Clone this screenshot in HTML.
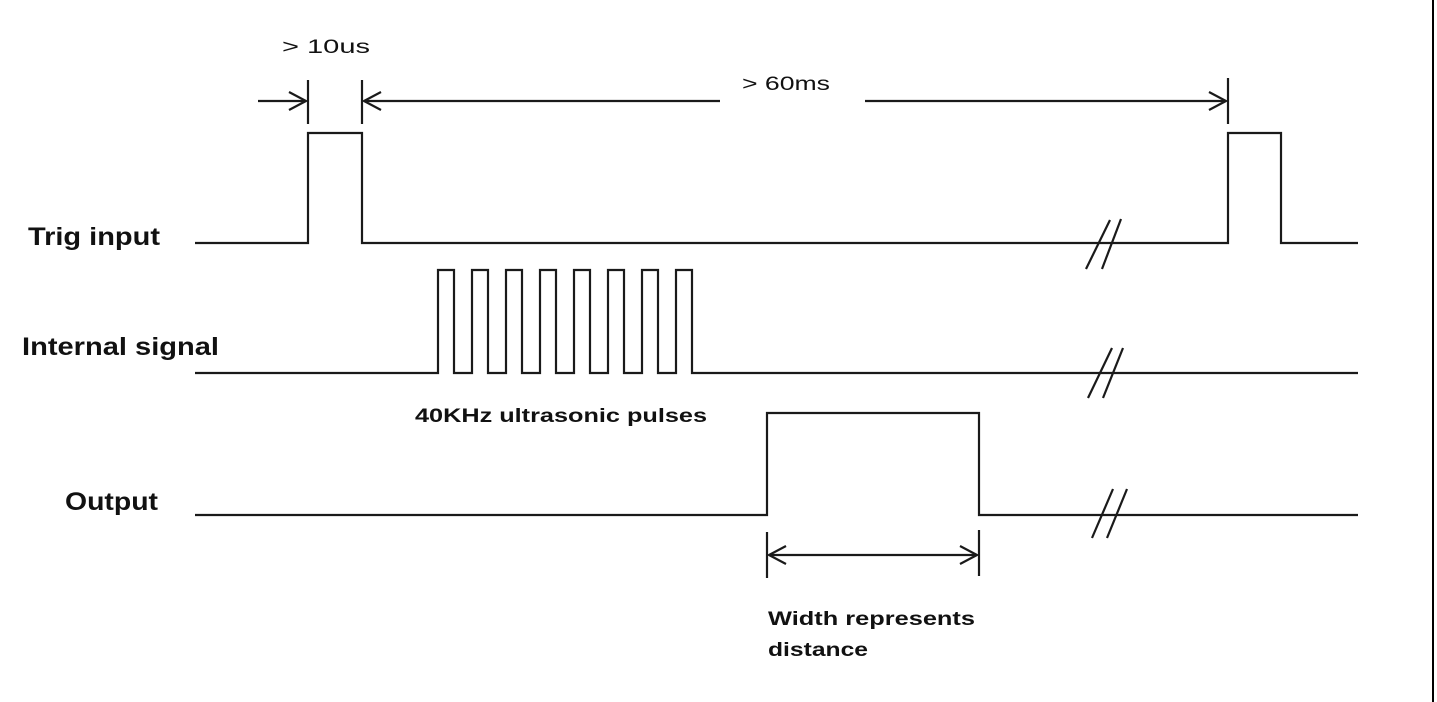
<!DOCTYPE html>
<html><head><meta charset="utf-8"><style>
html,body{margin:0;padding:0;background:#fff;}
svg{display:block;}
text{font-family:"Liberation Sans",Arial,sans-serif;fill:#111;}
</style></head><body>
<svg width="1437" height="702" viewBox="0 0 1437 702" xmlns="http://www.w3.org/2000/svg">
<rect width="1437" height="702" fill="#fff"/>
<line x1="1433" y1="0" x2="1433" y2="702" stroke="#000" stroke-width="2"/>
<g fill="none" stroke="#1a1a1a" stroke-width="2.2">
<!-- Trig -->
<polyline points="195,243 308,243 308,133 362,133 362,243 1228,243 1228,133 1281,133 1281,243 1358,243"/>
<line x1="1086" y1="269" x2="1110" y2="220"/><line x1="1102" y1="269" x2="1121" y2="219"/>
<!-- Internal -->
<polyline points="195,373 438,373 438,270 454,270 454,373 472,373 472,270 488,270 488,373 506,373 506,270 522,270 522,373 540,373 540,270 556,270 556,373 574,373 574,270 590,270 590,373 608,373 608,270 624,270 624,373 642,373 642,270 658,270 658,373 676,373 676,270 692,270 692,373 1358,373"/>
<line x1="1088" y1="398" x2="1112" y2="348"/><line x1="1103" y1="398" x2="1123" y2="348"/>
<!-- Output -->
<polyline points="195,515 767,515 767,413 979,413 979,515 1358,515"/>
<line x1="1092" y1="538" x2="1113" y2="489"/><line x1="1107" y1="538" x2="1127" y2="489"/>
<!-- dimension: 10us -->
<line x1="258" y1="101" x2="306" y2="101"/>
<polyline points="289,92 306,101 289,110"/>
<line x1="308" y1="80" x2="308" y2="124"/>
<line x1="362" y1="80" x2="362" y2="124"/>
<line x1="364" y1="101" x2="720" y2="101"/>
<polyline points="381,92 364,101 381,110"/>
<line x1="865" y1="101" x2="1226" y2="101"/>
<polyline points="1209,92 1226,101 1209,110"/>
<line x1="1228" y1="78" x2="1228" y2="124"/>
<!-- width arrow -->
<line x1="767" y1="532" x2="767" y2="578"/>
<line x1="979" y1="530" x2="979" y2="576"/>
<line x1="769" y1="555" x2="977" y2="555"/>
<polyline points="786,546 769,555 786,564"/>
<polyline points="960,546 977,555 960,564"/>
</g>
<text x="28" y="245" font-size="25" font-weight="bold" textLength="132" lengthAdjust="spacingAndGlyphs">Trig input</text>
<text x="22" y="355" font-size="25" font-weight="bold" textLength="197" lengthAdjust="spacingAndGlyphs">Internal signal</text>
<text x="65" y="510" font-size="25" font-weight="bold" textLength="93" lengthAdjust="spacingAndGlyphs">Output</text>
<text x="282" y="53" font-size="19" textLength="88" lengthAdjust="spacingAndGlyphs">&gt; 10us</text>
<text x="742" y="90" font-size="19" textLength="88" lengthAdjust="spacingAndGlyphs">&gt; 60ms</text>
<text x="415" y="422" font-size="19" font-weight="bold" fill="#222" textLength="292" lengthAdjust="spacingAndGlyphs">40KHz ultrasonic pulses</text>
<text x="768" y="625" font-size="19" font-weight="bold" fill="#222" textLength="207" lengthAdjust="spacingAndGlyphs">Width represents</text>
<text x="768" y="656" font-size="19" font-weight="bold" fill="#222" textLength="100" lengthAdjust="spacingAndGlyphs">distance</text>
</svg>
</body></html>
